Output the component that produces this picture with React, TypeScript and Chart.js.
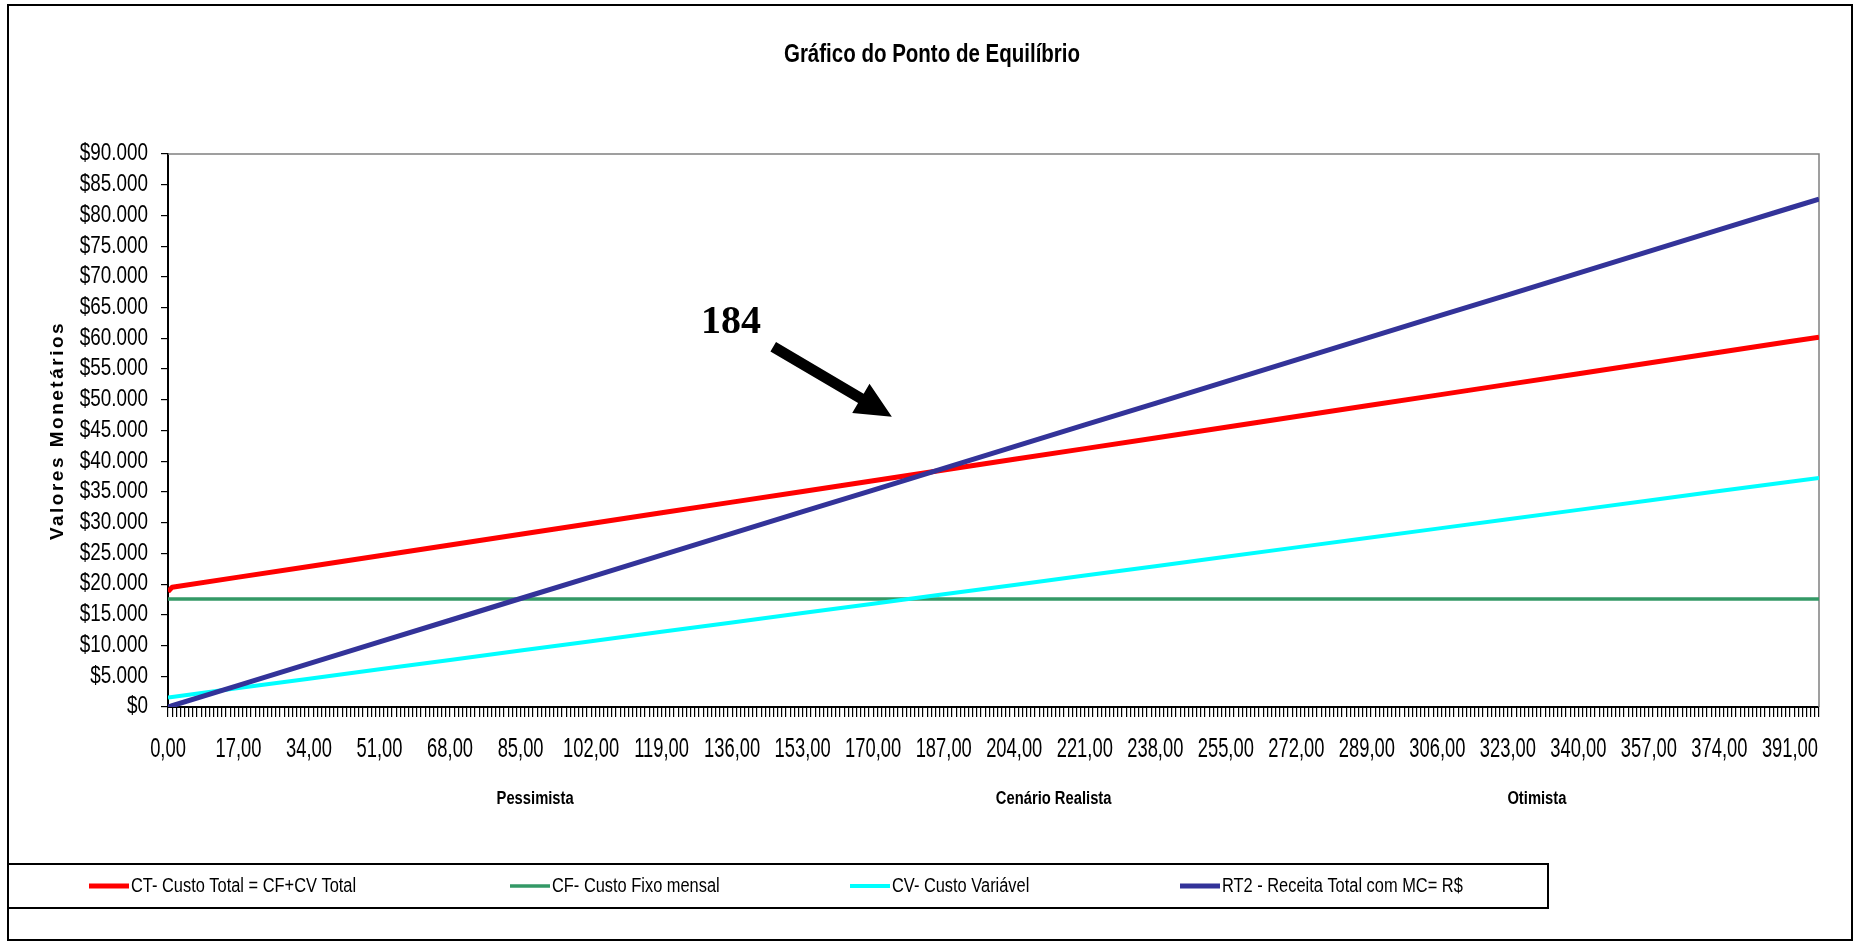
import { useEffect, useRef } from 'react';
import { Chart, registerables } from 'chart.js';

Chart.register(...registerables);

// ---------- text ----------
const CHART_TITLE = 'Gráfico do Ponto de Equilíbrio';
const Y_TITLE = 'Valores Monetários';
const SERIES_LABELS = [
  'CT- Custo Total = CF+CV Total',
  'CF- Custo Fixo mensal',
  'CV- Custo Variável',
  'RT2 - Receita Total com MC= R$',
];
const BREAK_EVEN_LABEL = '184';

// ---------- data ----------
const xPoints = [0, 1, 17, 34, 51, 68, 85, 102, 119, 136, 153, 170, 187, 204, 221, 238, 255, 272, 289, 306, 323, 340, 357, 374, 391, 398];
const ctValues = [18800, 19500, 21140, 22880, 24630, 26370, 28110, 29850, 31600, 33340, 35080, 36820, 38570, 40310, 42050, 43790, 45540, 47280, 49020, 50760, 52510, 54250, 55990, 57730, 59480, 60190];
const cfValues = [17580, 17580, 17580, 17580, 17580, 17580, 17580, 17580, 17580, 17580, 17580, 17580, 17580, 17580, 17580, 17580, 17580, 17580, 17580, 17580, 17580, 17580, 17580, 17580, 17580, 17580];
const cvValues = [1550, 1640, 3080, 4600, 6130, 7660, 9180, 10710, 12240, 13760, 15290, 16820, 18340, 19870, 21400, 22920, 24450, 25980, 27500, 29030, 30560, 32080, 33610, 35140, 36660, 37290];
const rtValues = [0, 210, 3530, 7060, 10590, 14120, 17660, 21190, 24720, 28250, 31780, 35310, 38840, 42370, 45900, 49430, 52960, 56490, 60030, 63560, 67090, 70620, 74150, 77680, 81210, 82670];

// ---------- axes ----------
const X_MIN = 0;
const X_MAX = 398;
const xLabeledTicks = [0, 17, 34, 51, 68, 85, 102, 119, 136, 153, 170, 187, 204, 221, 238, 255, 272, 289, 306, 323, 340, 357, 374, 391];
const Y_MIN = 0;
const Y_MAX = 90000;
const Y_STEP = 5000;
const groupLabels = ['Pessimista', 'Cenário Realista', 'Otimista'];
const groupCenters = [88.5, 213.5, 330];

// annotation anchors (data space)
const annLabelPos = { x: 135.7, y: 62500 };
const annArrowTail = { x: 145.9, y: 58640 };
const annArrowTip = { x: 174.5, y: 47250 };

// ---------- styles ----------
const COLORS = ['#FF0000', '#339966', '#00FFFF', '#333399'];
const WIDTHS = [5, 3.5, 4, 5];
const ORDERS = [3, 2, 1, 0];
// Narrow faces are emulated by horizontally condensing Liberation Sans glyphs.
const NARROW = "'Liberation Sans Narrow', 'Liberation Sans', sans-serif";
const COMPRESSED = "'Liberation Sans Compressed', 'Liberation Sans', sans-serif";
const TRACKED = "'Liberation Sans Tracked', 'Liberation Sans', sans-serif";
const SERIF = "'Liberation Serif', 'Times New Roman', serif";

const legendItemX = [89, 510, 850, 1180];

function fmtMoney(v: number): string {
  if (v === 0) return '$0';
  const s = Math.round(v).toString();
  return '$' + s.replace(/\B(?=(\d{3})+(?!\d))/g, '.');
}

function installCondensedText(ctx: any) {
  if (ctx.__condensed) return;
  ctx.__condensed = true;
  const orig = ctx.fillText;
  ctx.fillText = function (text: string, x: number, y: number, maxWidth?: number) {
    const f: string = this.font || '';
    if (f.includes('Tracked')) {
      const prev = this.letterSpacing;
      this.letterSpacing = '2.5px';
      orig.call(this, text, x, y);
      this.letterSpacing = prev;
      return;
    }
    let k = 1;
    if (f.includes('Compressed')) k = 0.68;
    else if (f.includes('Narrow')) k = 0.82;
    if (k === 1) {
      if (maxWidth === undefined) return orig.call(this, text, x, y);
      return orig.call(this, text, x, y, maxWidth);
    }
    this.save();
    this.translate(x, y);
    this.scale(k, 1);
    orig.call(this, text, 0, 0);
    this.restore();
  };
}

const framePlugin = {
  id: 'framePlugin',
  beforeInit(chart: any) {
    installCondensedText(chart.ctx);
  },
  beforeDraw(chart: any) {
    const { ctx, width, height } = chart;
    installCondensedText(ctx);
    ctx.save();
    ctx.fillStyle = '#FFFFFF';
    ctx.fillRect(0, 0, width, height);
    ctx.restore();
  },
  beforeDatasetsDraw(chart: any) {
    const { ctx, chartArea } = chart;
    ctx.save();
    ctx.strokeStyle = '#808080';
    ctx.lineWidth = 1.5;
    ctx.beginPath();
    ctx.moveTo(chartArea.left, chartArea.top);
    ctx.lineTo(chartArea.right, chartArea.top);
    ctx.lineTo(chartArea.right, chartArea.bottom);
    ctx.stroke();
    ctx.restore();
  },
  afterDatasetsDraw(chart: any) {
    const { ctx } = chart;
    const xs = chart.scales.x;
    const ys = chart.scales.y;
    const tail = { x: xs.getPixelForValue(annArrowTail.x), y: ys.getPixelForValue(annArrowTail.y) };
    const tip = { x: xs.getPixelForValue(annArrowTip.x), y: ys.getPixelForValue(annArrowTip.y) };
    const dx = tip.x - tail.x;
    const dy = tip.y - tail.y;
    const len = Math.hypot(dx, dy);
    const ux = dx / len;
    const uy = dy / len;
    const px = -uy;
    const py = ux;
    const headLen = 36;
    const headHalf = 17;
    const shaftHalf = 5.5;
    const bx = tip.x - ux * headLen;
    const by = tip.y - uy * headLen;
    ctx.save();
    ctx.fillStyle = '#000000';
    ctx.beginPath();
    ctx.moveTo(tail.x + px * shaftHalf, tail.y + py * shaftHalf);
    ctx.lineTo(bx + px * shaftHalf, by + py * shaftHalf);
    ctx.lineTo(bx + px * headHalf, by + py * headHalf);
    ctx.lineTo(tip.x, tip.y);
    ctx.lineTo(bx - px * headHalf, by - py * headHalf);
    ctx.lineTo(bx - px * shaftHalf, by - py * shaftHalf);
    ctx.lineTo(tail.x - px * shaftHalf, tail.y - py * shaftHalf);
    ctx.closePath();
    ctx.fill();
    ctx.font = `bold 40px ${SERIF}`;
    ctx.textAlign = 'center';
    ctx.textBaseline = 'middle';
    ctx.fillText(BREAK_EVEN_LABEL, xs.getPixelForValue(annLabelPos.x), ys.getPixelForValue(annLabelPos.y));
    ctx.restore();
  },
  afterDraw(chart: any) {
    const { ctx } = chart;
    ctx.save();
    // outer frame
    ctx.strokeStyle = '#000000';
    ctx.lineWidth = 2;
    ctx.strokeRect(8, 5, 1844, 935);
    // legend box
    ctx.strokeRect(8, 864, 1540, 44);
    const cy = 886;
    chart.data.datasets.forEach((ds: any, i: number) => {
      const x0 = legendItemX[i];
      ctx.strokeStyle = ds.borderColor;
      ctx.lineWidth = ds.borderWidth;
      ctx.lineCap = 'butt';
      ctx.beginPath();
      ctx.moveTo(x0, cy);
      ctx.lineTo(x0 + 40, cy);
      ctx.stroke();
      ctx.fillStyle = '#000000';
      ctx.font = `20px ${NARROW}`;
      ctx.textAlign = 'left';
      ctx.textBaseline = 'middle';
      ctx.fillText(ds.label, x0 + 42, cy);
    });
    ctx.restore();
  },
};

export default function App() {
  const ref = useRef<HTMLCanvasElement>(null);

  useEffect(() => {
    document.body.style.margin = '0';
    document.body.style.overflow = 'hidden';
    const canvas = ref.current;
    if (!canvas) return;
    const series = [ctValues, cfValues, cvValues, rtValues];
    const chart = new Chart(canvas, {
      type: 'line',
      data: {
        datasets: series.map((vals, i) => ({
          label: SERIES_LABELS[i],
          data: xPoints.map((x, j) => ({ x, y: vals[j] })),
          borderColor: COLORS[i],
          backgroundColor: COLORS[i],
          borderWidth: WIDTHS[i],
          order: ORDERS[i],
          pointRadius: 0,
          tension: 0,
          fill: false,
          borderJoinStyle: 'round',
          borderCapStyle: 'butt',
        })),
      },
      options: {
        animation: false,
        responsive: true,
        maintainAspectRatio: false,
        events: [],
        layout: { padding: { top: 5, left: 45, right: 41, bottom: 128 } },
        plugins: {
          legend: { display: false },
          tooltip: { enabled: false },
          title: {
            display: true,
            text: CHART_TITLE,
            color: '#000000',
            font: { family: NARROW, size: 25, weight: 'bold' },
            padding: { top: 35, bottom: 84 },
          },
        },
        scales: {
          x: {
            type: 'linear',
            position: 'bottom',
            min: X_MIN,
            max: X_MAX,
            weight: 0,
            afterBuildTicks: (scale: any) => {
              const t = [];
              for (let v = X_MIN; v <= X_MAX; v++) t.push({ value: v });
              scale.ticks = t;
            },
            afterFit: (scale: any) => {
              scale.height = 60;
            },
            ticks: {
              autoSkip: false,
              maxRotation: 0,
              minRotation: 0,
              padding: 16,
              color: '#000000',
              font: { family: COMPRESSED, size: 27 },
              callback: (value: any) => {
                const v = Number(value);
                return xLabeledTicks.includes(v) ? `${v},00` : '';
              },
            },
            grid: {
              display: true,
              drawOnChartArea: false,
              drawTicks: true,
              tickLength: 10,
              color: '#000000',
              lineWidth: 1.2,
            },
            border: { display: true, color: '#000000', width: 2 },
          },
          xg: {
            type: 'linear',
            position: 'bottom',
            min: X_MIN,
            max: X_MAX,
            weight: 1,
            afterBuildTicks: (scale: any) => {
              scale.ticks = groupCenters.map((v) => ({ value: v }));
            },
            afterFit: (scale: any) => {
              scale.height = 50;
            },
            ticks: {
              autoSkip: false,
              maxRotation: 0,
              minRotation: 0,
              padding: 21,
              color: '#000000',
              font: { family: NARROW, size: 18, weight: 'bold' },
              callback: (value: any) => {
                const idx = groupCenters.indexOf(Number(value));
                return idx >= 0 ? groupLabels[idx] : '';
              },
            },
            grid: { display: false, drawTicks: false },
            border: { display: false },
          },
          y: {
            type: 'linear',
            position: 'left',
            min: Y_MIN,
            max: Y_MAX,
            afterFit: (scale: any) => {
              scale.width = 123;
            },
            ticks: {
              stepSize: Y_STEP,
              padding: 13,
              color: '#000000',
              font: { family: NARROW, size: 23 },
              callback: (value: any) => fmtMoney(Number(value)),
            },
            grid: {
              display: true,
              drawOnChartArea: false,
              drawTicks: true,
              tickLength: 7,
              color: '#000000',
              lineWidth: 1.2,
            },
            border: { display: true, color: '#000000', width: 2 },
            title: {
              display: true,
              text: Y_TITLE,
              color: '#000000',
              font: { family: TRACKED, size: 19, weight: 'bold' },
              padding: { top: 1, bottom: 0 },
            },
          },
        },
      },
      plugins: [framePlugin],
    } as any);
    return () => chart.destroy();
  }, []);

  return (
    <div style={{ width: 1860, height: 945, position: 'relative' }}>
      <canvas ref={ref} />
    </div>
  );
}
